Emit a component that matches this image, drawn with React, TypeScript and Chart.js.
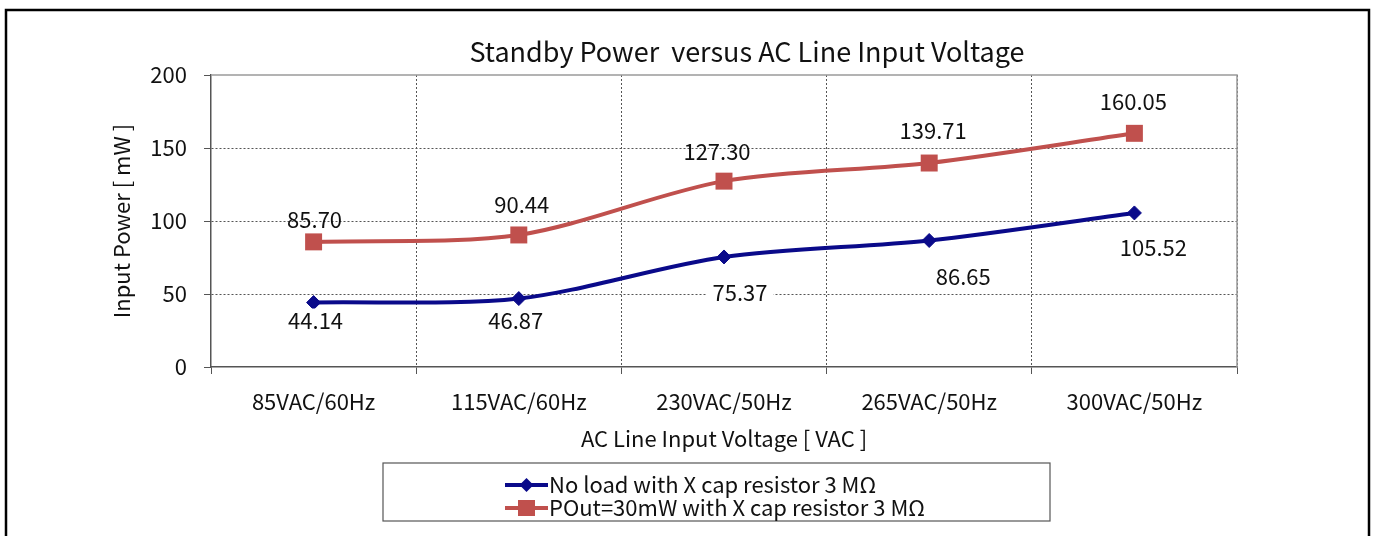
import React, { useEffect, useRef } from "react";
import { Chart, registerables } from "chart.js";

Chart.register(...registerables);

const categories = ["85VAC/60Hz", "115VAC/60Hz", "230VAC/50Hz", "265VAC/50Hz", "300VAC/50Hz"];
const noLoad = [44.14, 46.87, 75.37, 86.65, 105.52];
const pout30 = [85.7, 90.44, 127.3, 139.71, 160.05];
const seriesNames = ["No load with X cap resistor 3 M\u03A9", "POut=30mW with X cap resistor 3 M\u03A9"];
const titleText = "Standby Power  versus AC Line Input Voltage";
const xTitle = "AC Line Input Voltage [ VAC ]";
const yTitle = "Input Power [ mW ]";

// label placement offsets (style, not data)
const blueLabelOffsets = [[2, 18], [-3, 22], [16, 36], [34, 36], [19, 35]];
const redLabelOffsets = [[1, -22], [3, -30], [-7, -30], [4, -32], [-1, -32]];

const FONT = "'Noto Sans CJK JP', 'Noto Sans', sans-serif";
const BLUE = "#0a0a8a";
const RED = "#c0504d";

export default function App() {
  const ref = useRef<HTMLCanvasElement>(null);
  useEffect(() => {
    if (!ref.current) return;
    const decor = {
      id: "decor",
      beforeDraw(chart: any) {
        const ctx = chart.ctx;
        ctx.save();
        ctx.fillStyle = "#fff";
        ctx.fillRect(0, 0, chart.width, chart.height);
        ctx.restore();
      },
      afterDraw(chart: any) {
        const ctx = chart.ctx;
        const a = chart.chartArea;
        ctx.save();
        // plot frame top/right
        ctx.strokeStyle = "#9a9a9a";
        ctx.lineWidth = 1.5;
        ctx.beginPath();
        ctx.moveTo(a.left, a.top);
        ctx.lineTo(a.right, a.top);
        ctx.lineTo(a.right, a.bottom);
        ctx.stroke();
        // outer border
        ctx.strokeStyle = "#000";
        ctx.lineWidth = 2.5;
        ctx.strokeRect(6, 10, 1363, 540);
        // title
        ctx.fillStyle = "#111";
        ctx.font = `27px ${FONT}`;
        ctx.textAlign = "center";
        ctx.textBaseline = "middle";
        ctx.fillText(titleText, 747, 52);
        // data labels
        ctx.font = `22px ${FONT}`;
        const drawLabels = (di: number, offs: number[][], fill: boolean) => {
          const meta = chart.getDatasetMeta(di);
          const vals = chart.data.datasets[di].data as number[];
          meta.data.forEach((pt: any, j: number) => {
            const txt = vals[j].toFixed(2);
            const x = pt.x + offs[j][0];
            const y = pt.y + offs[j][1];
            if (fill) {
              const w = ctx.measureText(txt).width;
              ctx.fillStyle = "#fff";
              ctx.fillRect(x - w / 2 - 6, y - 12, w + 12, 24);
            }
            ctx.fillStyle = "#111";
            ctx.fillText(txt, x, y);
          });
        };
        drawLabels(0, blueLabelOffsets, true);
        drawLabels(1, redLabelOffsets, false);
        // legend
        const lx = 383, ly = 463, lw = 667, lh = 58;
        ctx.strokeStyle = "#555";
        ctx.lineWidth = 1.2;
        ctx.strokeRect(lx, ly, lw, lh);
        const rows = [485, 508];
        chart.data.datasets.forEach((ds: any, i: number) => {
          const y = rows[i];
          ctx.strokeStyle = ds.borderColor;
          ctx.lineWidth = 4;
          ctx.beginPath();
          ctx.moveTo(505, y);
          ctx.lineTo(548, y);
          ctx.stroke();
          ctx.fillStyle = ds.borderColor;
          if (i === 0) {
            ctx.beginPath();
            ctx.moveTo(526.5, y - 7);
            ctx.lineTo(533.5, y);
            ctx.lineTo(526.5, y + 7);
            ctx.lineTo(519.5, y);
            ctx.closePath();
            ctx.fill();
          } else {
            ctx.fillRect(518, y - 8, 17, 16);
          }
          ctx.fillStyle = "#111";
          ctx.font = `22px ${FONT}`;
          ctx.textAlign = "left";
          ctx.fillText(ds.label, 549, y);
        });
        ctx.restore();
      },
    };
    const chart = new Chart(ref.current, {
      type: "line",
      data: {
        labels: categories,
        datasets: [
          {
            label: seriesNames[0],
            data: noLoad,
            borderColor: BLUE,
            backgroundColor: BLUE,
            borderWidth: 4,
            pointStyle: "rectRot",
            pointRadius: 7,
            pointBorderWidth: 1,
            tension: 0.3,
          },
          {
            label: seriesNames[1],
            data: pout30,
            borderColor: RED,
            backgroundColor: RED,
            borderWidth: 4,
            pointStyle: "rect",
            pointRadius: 12,
            pointBorderWidth: 0,
            tension: 0.3,
          },
        ],
      },
      options: {
        animation: false,
        responsive: false,
        devicePixelRatio: 1,
        layout: { padding: { left: 0, top: 75, right: 138, bottom: 69 } },
        plugins: { legend: { display: false }, title: { display: false }, tooltip: { enabled: false } },
        scales: {
          x: {
            type: "category",
            offset: true,
            grid: {
              offset: true,
              color: (c: any) => (c.index === 0 || c.index === categories.length ? "rgba(0,0,0,0)" : "#555"),
              tickColor: "#555",
              tickLength: 7,
              lineWidth: 1,
            } as any,
            border: { color: "#555", width: 1.5, dash: [2, 2] } as any,
            ticks: { color: "#111", font: { family: FONT, size: 22 }, padding: 14, maxRotation: 0 },
            title: { display: true, text: xTitle, color: "#111", font: { family: FONT, size: 22 }, padding: { top: 0, bottom: 15 } },
            afterFit: (s: any) => { s.height = 100; },
          },
          y: {
            min: 0,
            max: 200,
            ticks: { stepSize: 50, color: "#111", font: { family: FONT, size: 22 }, padding: 17 },
            grid: {
              color: (c: any) => (c.tick && (c.tick.value === 0 || c.tick.value === 200) ? "rgba(0,0,0,0)" : "#555"),
              tickColor: "#555",
              tickLength: 7,
              lineWidth: 1,
            } as any,
            border: { color: "#555", width: 1.5, dash: [2, 2] } as any,
            title: { display: true, text: yTitle, color: "#111", font: { family: FONT, size: 22 }, padding: { top: 108, bottom: 0 } },
            afterFit: (s: any) => { s.width = 211; },
          },
        },
      } as any,
      plugins: [decor],
    });
    return () => chart.destroy();
  }, []);
  return (
    <div style={{ position: "absolute", left: 0, top: 0, width: 1375, height: 536 }}>
      <canvas ref={ref} width={1375} height={536} />
    </div>
  );
}
